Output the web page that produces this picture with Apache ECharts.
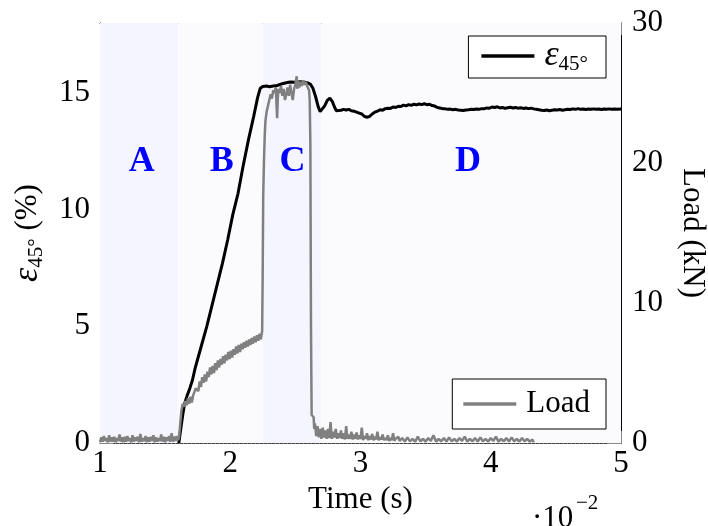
<!DOCTYPE html>
<html><head><meta charset="utf-8">
<script src="https://cdn.jsdelivr.net/npm/echarts@6/dist/echarts.min.js"></script>
<style>html,body{margin:0;padding:0;background:#fff;overflow:hidden}#c{width:708px;height:526px}</style>
</head><body><div id="c"></div>
<script>
// ---- data ----
const xTicks = [1, 2, 3, 4, 5];
const leftTicks = [0, 5, 10, 15];
const rightTicks = [0, 10, 20, 30];
const phaseNames = ['A', 'B', 'C', 'D'];
const phaseLabelX = [1.32, 1.935, 2.478, 3.825];
const phaseLabelY = [12.05, 12.05, 12.05, 12.05];
const phaseStart = [1.0, 1.6, 2.25, 2.7];
const phaseEnd = [1.6, 2.25, 2.7, 5.0];

// strain eps45 (%) vs time (s x 1e-2)
const strainPoints = [
[1.605,0],[1.62,0.6],[1.635,1.2],[1.65,1.7],[1.67,2.05],[1.69,2.35],[1.71,2.7],[1.73,3.2],[1.75,3.6],
[1.78,4.2],[1.82,5.0],[1.86,5.9],[1.90,6.8],[1.94,7.7],[1.98,8.7],[2.02,9.8],[2.06,10.7],[2.10,11.9],
[2.14,13.0],[2.18,14.0],[2.21,14.8],[2.23,15.2],[2.25,15.28],[2.28,15.3],[2.30,15.27],[2.33,15.3],
[2.36,15.32],[2.40,15.4],[2.43,15.44],[2.46,15.47],[2.50,15.46],[2.53,15.48],[2.56,15.47],[2.59,15.44],
[2.615,15.38],[2.635,15.2],[2.655,14.85],[2.675,14.42],[2.69,14.2],[2.705,14.25],[2.725,14.45],[2.745,14.68],
[2.765,14.78],[2.785,14.62],[2.80,14.4],[2.815,14.24],[2.83,14.2],[2.85,14.26],[2.87,14.3],[2.89,14.27],
[2.91,14.3],[2.93,14.24],[2.95,14.22],[2.97,14.18],[2.99,14.14],[3.01,14.1],[3.03,14.0],[3.05,13.96],
[3.07,14.0],[3.09,14.1],[3.11,14.18],[3.13,14.22],[3.15,14.28],[3.17,14.26],[3.19,14.33],[3.21,14.35],
[3.23,14.34],[3.25,14.4],[3.27,14.38],[3.29,14.43],[3.31,14.42],[3.33,14.48],[3.35,14.45],[3.37,14.5],
[3.39,14.47],[3.41,14.52],[3.43,14.49],[3.45,14.53],[3.47,14.5],[3.49,14.54],[3.51,14.5],[3.53,14.52],
[3.55,14.46],[3.57,14.44],[3.59,14.38],[3.61,14.36],[3.63,14.33],[3.65,14.32],[3.67,14.3],[3.69,14.31],
[3.71,14.28],[3.73,14.3],[3.75,14.27],[3.77,14.26],[3.79,14.25],[3.81,14.27],[3.83,14.28],[3.85,14.3],
[3.87,14.29],[3.89,14.31],[3.91,14.3],[3.93,14.33],[3.95,14.32],[3.97,14.36],[3.99,14.35],[4.01,14.4],
[4.03,14.38],[4.05,14.41],[4.07,14.36],[4.09,14.38],[4.11,14.34],[4.13,14.37],[4.15,14.39],[4.17,14.36],
[4.19,14.38],[4.21,14.35],[4.23,14.37],[4.25,14.34],[4.27,14.36],[4.29,14.33],[4.31,14.35],[4.33,14.32],
[4.35,14.3],[4.37,14.28],[4.39,14.26],[4.41,14.25],[4.43,14.27],[4.45,14.24],[4.47,14.26],[4.49,14.28],
[4.51,14.27],[4.53,14.29],[4.55,14.26],[4.57,14.28],[4.59,14.3],[4.61,14.29],[4.63,14.32],[4.65,14.3],
[4.67,14.33],[4.69,14.3],[4.71,14.31],[4.73,14.29],[4.75,14.31],[4.77,14.3],[4.79,14.32],[4.81,14.3],
[4.83,14.31],[4.85,14.29],[4.87,14.31],[4.89,14.3],[4.91,14.32],[4.93,14.3],[4.95,14.31],[4.97,14.3],[5.0,14.31]
];

// load (kN) vs time (s x 1e-2)
const loadPoints = [
[1.00,0.05],[1.01,0.4],[1.02,0.1],[1.03,0.5],[1.04,0.15],[1.05,0.35],[1.06,0.05],[1.07,0.55],[1.08,0.1],[1.09,0.4],
[1.10,0.1],[1.11,0.45],[1.12,0.05],[1.13,0.35],[1.14,0.15],[1.15,0.6],[1.16,0.1],[1.17,0.4],[1.18,0.05],[1.19,0.45],
[1.20,0.1],[1.21,0.5],[1.22,0.15],[1.23,0.35],[1.24,0.05],[1.25,0.55],[1.26,0.1],[1.27,0.4],[1.28,0.15],[1.29,0.45],
[1.30,0.05],[1.31,0.65],[1.32,0.1],[1.33,0.35],[1.34,0.15],[1.35,0.5],[1.36,0.05],[1.37,0.4],[1.38,0.1],[1.39,0.45],
[1.40,0.15],[1.41,0.55],[1.42,0.05],[1.43,0.4],[1.44,0.1],[1.45,0.35],[1.46,0.15],[1.47,0.6],[1.48,0.1],[1.49,0.45],
[1.50,0.05],[1.51,0.4],[1.52,0.15],[1.53,0.5],[1.54,0.1],[1.55,0.7],[1.56,0.1],[1.57,0.45],[1.58,0.15],[1.59,0.5],
[1.600,0.2],[1.607,0.4],[1.615,1.3],[1.625,2.3],[1.635,2.8],[1.645,2.6],[1.655,3.0],[1.665,2.7],[1.675,3.2],[1.685,2.8],
[1.695,3.3],[1.705,2.9],[1.715,3.4],[1.725,3.4],[1.735,3.9],[1.745,4.0],[1.755,3.7],[1.765,4.4],[1.775,4.0],[1.785,4.7],
[1.795,4.3],[1.805,4.9],[1.815,4.4],[1.825,5.1],[1.835,4.7],[1.845,5.4],[1.855,4.9],[1.865,5.5],[1.875,5.0],[1.885,5.7],
[1.895,5.2],[1.905,5.9],[1.915,5.4],[1.925,6.0],[1.935,5.6],[1.945,6.2],[1.955,5.7],[1.965,6.3],[1.975,5.9],[1.985,6.5],
[1.995,6.0],[2.005,6.6],[2.015,6.1],[2.025,6.7],[2.035,6.3],[2.045,6.9],[2.055,6.4],[2.065,7.0],[2.075,6.5],[2.085,7.1],
[2.095,6.7],[2.105,7.2],[2.115,6.8],[2.125,7.3],[2.135,6.9],[2.145,7.4],[2.155,7.0],[2.165,7.5],[2.175,7.1],[2.185,7.6],
[2.195,7.2],[2.205,7.7],[2.215,7.3],[2.225,7.8],[2.235,7.4],[2.245,8.0],[2.249,12.0],[2.253,17.6],[2.259,20.2],[2.265,22.0],
[2.27,23.0],[2.28,23.7],[2.29,24.1],[2.30,24.5],[2.31,24.9],[2.32,24.6],[2.33,25.2],[2.34,25.0],[2.35,25.4],[2.355,24.2],
[2.36,23.2],[2.365,24.6],[2.37,25.3],[2.38,25.0],[2.39,25.5],[2.40,24.8],[2.41,25.3],[2.42,24.5],[2.43,24.9],[2.44,25.4],
[2.45,24.8],[2.46,25.6],[2.47,25.0],[2.48,24.5],[2.49,25.3],[2.50,25.6],[2.51,26.2],[2.515,25.3],[2.52,25.9],[2.53,25.4],
[2.54,25.8],[2.55,25.5],[2.56,25.9],[2.57,25.6],[2.58,25.8],[2.59,25.5],[2.60,25.6],[2.605,25.2],[2.61,24.5],[2.615,21.5],
[2.62,8.0],[2.625,2.0],[2.63,1.9],[2.64,1.85],[2.645,1.0],[2.65,1.4],[2.66,0.5],[2.67,1.2],[2.68,0.4],[2.69,1.0],
[2.70,0.3],[2.71,1.1],[2.72,0.4],[2.73,0.9],[2.74,0.3],[2.75,1.0],[2.76,0.35],[2.77,1.5],[2.78,0.3],[2.79,0.8],
[2.80,0.4],[2.81,1.0],[2.82,0.3],[2.83,0.7],[2.84,0.35],[2.85,0.9],[2.86,0.3],[2.87,0.7],[2.88,0.25],[2.89,1.2],
[2.90,0.3],[2.91,0.6],[2.92,0.3],[2.93,0.8],[2.94,0.25],[2.95,0.6],[2.96,0.3],[2.97,0.75],[2.98,0.25],[2.99,0.55],
[3.00,0.3],[3.01,1.1],[3.02,0.2],[3.03,0.5],[3.04,0.3],[3.05,0.7],[3.06,0.2],[3.07,0.5],[3.08,0.25],[3.09,0.65],
[3.10,0.2],[3.11,0.45],[3.12,0.25],[3.13,0.8],[3.14,0.2],[3.15,0.4],[3.16,0.25],[3.17,0.6],[3.18,0.2],[3.19,0.35],
[3.20,0.2],[3.21,0.55],[3.22,0.15],[3.23,0.35],[3.24,0.2],[3.25,0.7],[3.26,0.15],[3.27,0.3],[3.28,0.2],[3.29,0.45],
[3.30,0.15],[3.32,0.35],[3.34,0.1],[3.36,0.4],[3.38,0.12],[3.40,0.3],[3.42,0.1],[3.44,0.45],[3.46,0.12],[3.48,0.3],
[3.50,0.1],[3.52,0.35],[3.54,0.15],[3.56,0.55],[3.58,0.1],[3.60,0.3],[3.62,0.12],[3.64,0.35],[3.66,0.1],[3.68,0.4],
[3.70,0.12],[3.72,0.3],[3.74,0.1],[3.76,0.35],[3.78,0.15],[3.80,0.45],[3.82,0.1],[3.84,0.3],[3.86,0.12],[3.88,0.35],
[3.90,0.1],[3.92,0.4],[3.94,0.12],[3.96,0.3],[3.98,0.1],[4.00,0.35],[4.02,0.15],[4.04,0.45],[4.06,0.1],[4.08,0.3],
[4.10,0.12],[4.12,0.35],[4.14,0.1],[4.16,0.4],[4.18,0.12],[4.20,0.3],[4.22,0.1],[4.24,0.35],[4.26,0.12],[4.28,0.3],
[4.30,0.1],[4.32,0.25],[4.33,0.05]
];

const FONT = 'Liberation Serif';
const chart = echarts.init(document.getElementById('c'), null, {renderer: 'canvas'});

const bandColors = ['#f4f5fe', '#fbfbfe', '#f4f5fe', '#fbfbfe'];
const bands = phaseStart.map((s, i) => [
  {xAxis: s, itemStyle: {color: bandColors[i]}}, {xAxis: phaseEnd[i]}
]);

const epsRich = {
  e: {fontFamily: FONT, fontSize: 36, fontStyle: 'italic', lineHeight: 38, color: '#000'},
  s: {fontFamily: FONT, fontSize: 21, lineHeight: 21, verticalAlign: 'bottom', color: '#000'},
  t: {fontFamily: FONT, fontSize: 31, lineHeight: 38, color: '#000'}
};

const option = {
  animation: false,
  backgroundColor: '#fff',
  grid: {left: 100, right: 87, top: 23, bottom: 83, outerBoundsMode: 'none', containLabel: false},
  legend: [
    {
      data: [{name: 'ε45°', icon: 'rect'}],
      right: 102, top: 36,
      orient: 'vertical',
      itemWidth: 53, itemHeight: 3.5,
      padding: [2, 18, 3, 13],
      borderColor: '#000', borderWidth: 1, borderRadius: 0,
      backgroundColor: '#fff',
      selectedMode: false,
      formatter: () => '{e|ε}{s|45°}',
      textStyle: {padding: [0, 0, 0, 5], rich: epsRich}
    },
    {
      data: [{name: 'Load', icon: 'rect'}],
      right: 102, top: 379,
      orient: 'vertical',
      itemWidth: 53, itemHeight: 3.5,
      padding: [7, 16, 7, 11],
      borderColor: '#000', borderWidth: 1, borderRadius: 0,
      backgroundColor: '#fff',
      selectedMode: false,
      textStyle: {fontFamily: FONT, fontSize: 31, lineHeight: 36, color: '#000', padding: [0, 0, 0, 5]}
    }
  ],
  xAxis: [
    {
      type: 'value', position: 'bottom', min: 1, max: 5, interval: 1,
      name: 'Time (s)', nameLocation: 'middle', nameGap: 39,
      nameTextStyle: {fontFamily: FONT, fontSize: 31, color: '#000'},
      axisLine: {show: true, onZero: false, lineStyle: {color: '#444', width: 1, type: [3, 1]}},
      axisTick: {show: true, inside: true, length: 12, lineStyle: {color: '#888'}},
      axisLabel: {fontFamily: FONT, fontSize: 31, color: '#000', margin: 5,
        formatter: v => xTicks.indexOf(v) >= 0 ? String(v) : ''},
      splitLine: {show: true, lineStyle: {color: '#aaa', type: [1.5, 7.5], width: 1}}
    },
    {
      type: 'value', position: 'top', min: 1, max: 5, interval: 1,
      axisLine: {show: true, onZero: false, lineStyle: {color: '#444', width: 1, type: [3, 1]}},
      axisTick: {show: true, inside: true, length: 12, lineStyle: {color: '#888'}},
      axisLabel: {show: false},
      splitLine: {show: false}
    }
  ],
  yAxis: [
    {
      type: 'value', position: 'left', min: 0, max: 18, interval: 5,
      name: '{e|ε}{s|45°}{t| (%)}', nameLocation: 'middle', nameGap: 53, nameRotate: 90,
      nameTextStyle: {fontFamily: FONT, fontSize: 31, color: '#000', rich: epsRich},
      axisLine: {show: true, onZero: false, lineStyle: {color: '#000', width: 1}},
      axisTick: {show: true, inside: true, length: 13, lineStyle: {color: '#888'}},
      axisLabel: {fontFamily: FONT, fontSize: 31, color: '#000', margin: 10, showMaxLabel: false,
        formatter: v => leftTicks.indexOf(v) >= 0 ? String(v) : ''},
      splitLine: {show: false}
    },
    {
      type: 'value', position: 'right', min: 0, max: 30, interval: 10,
      name: 'Load (kN)', nameLocation: 'middle', nameGap: 56, nameRotate: -90,
      nameTextStyle: {fontFamily: FONT, fontSize: 31, color: '#000'},
      axisLine: {show: true, onZero: false, lineStyle: {color: '#000', width: 1}},
      axisTick: {show: true, inside: true, length: 13, lineStyle: {color: '#888'}},
      axisLabel: {fontFamily: FONT, fontSize: 31, color: '#000', margin: 11,
        formatter: v => rightTicks.indexOf(v) >= 0 ? String(v) : ''},
      splitLine: {show: true, lineStyle: {color: '#aaa', type: [1.5, 7.5], width: 1}}
    }
  ],
  series: [
    {
      name: 'phases', type: 'scatter', xAxisIndex: 0, yAxisIndex: 0,
      symbolSize: 0, silent: true, z: 1,
      itemStyle: {opacity: 1},
      data: phaseNames.map((n, i) => ({name: n, value: [phaseLabelX[i], phaseLabelY[i]]})),
      label: {show: true, position: 'inside', formatter: p => p.name, opacity: 1,
        fontFamily: FONT, fontSize: 36, fontWeight: 'bold', color: '#0000ff'},
      markArea: {silent: true, data: bands, itemStyle: {opacity: 1}}
    },
    {
      name: 'ε45°', type: 'line', xAxisIndex: 0, yAxisIndex: 0,
      showSymbol: false, symbol: 'none', z: 3,
      lineStyle: {color: '#000', width: 3}, itemStyle: {color: '#000'},
      data: strainPoints
    },
    {
      name: 'Load', type: 'line', xAxisIndex: 0, yAxisIndex: 1,
      showSymbol: false, symbol: 'none', z: 4,
      lineStyle: {color: '#808080', width: 2.5}, itemStyle: {color: '#808080'},
      data: loadPoints
    }
  ],
  graphic: [
    {type: 'text', x: 532, y: 503, z: 10,
      style: {text: '·10', font: '31px "Liberation Serif"', fill: '#000', verticalAlign: 'top'}},
    {type: 'text', x: 576, y: 493, z: 10,
      style: {text: '−2', font: '21px "Liberation Serif"', fill: '#000', verticalAlign: 'top'}}
  ]
};
chart.setOption(option);
</script>
</body></html>
